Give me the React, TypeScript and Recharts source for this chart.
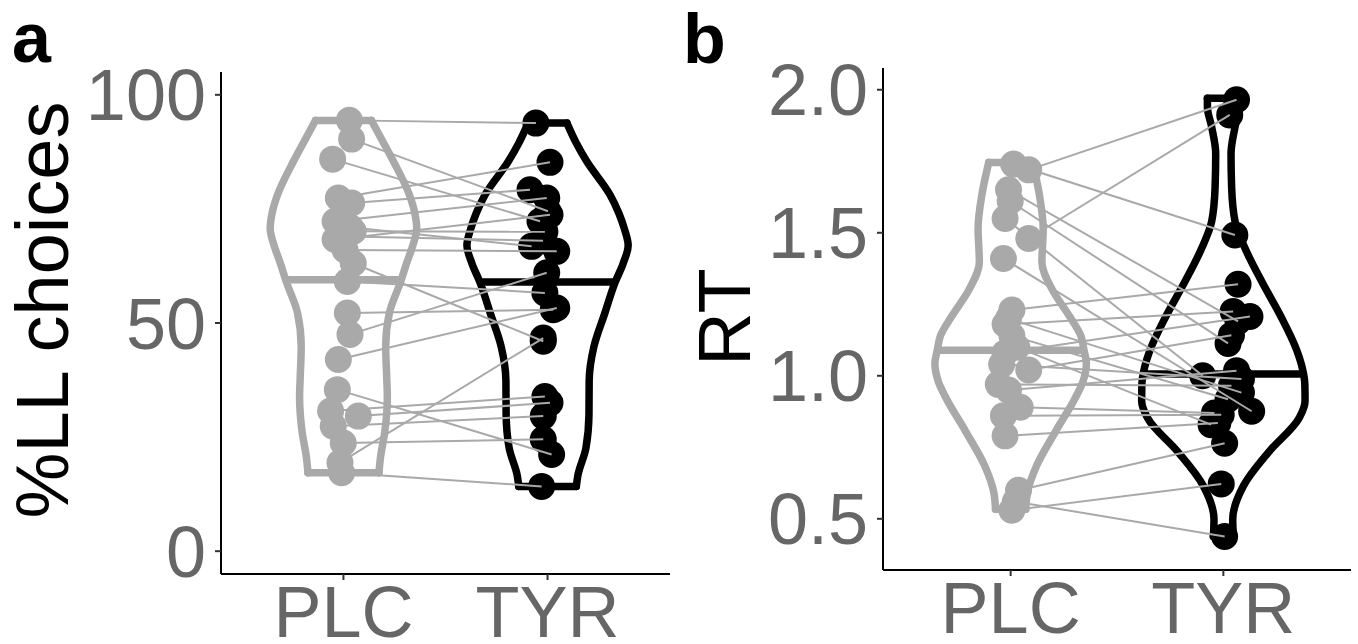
import React from 'react';
import { ComposedChart, Scatter, XAxis, YAxis } from 'recharts';

// ---------- categories ----------
const groups = ['PLC', 'TYR'];

// ---------- panel a : %LL choices ----------
const choicePLC = [94.4, 90.3, 85.9, 77.4, 76.3, 72.3, 71.0, 70.1, 69.0, 68.3, 66.0, 63.1, 59.1, 52.2, 47.5, 42.0, 35.4, 30.7, 29.6, 27.4, 23.7, 19.4, 17.2];
const choicePLCx = [1.029, 1.04, 0.947, 0.975, 1.04, 0.959, 1.032, 1.048, 0.983, 0.959, 1.008, 1.048, 1.019, 1.019, 1.032, 0.975, 0.97, 0.937, 1.073, 0.95, 0.999, 0.983, 0.991];
// paired with choicePLC (same subject order)
const choiceTYR = [93.8, 74.5, 72.3, 85.2, 79.2, 77.4, 66.8, 70.0, 68.0, 73.7, 65.7, 46.0, 56.6, 52.9, 61.0, 53.3, 21.2, 33.9, 32.5, 29.6, 24.5, 46.7, 14.2];
const choiceTYRx = [1.943, 2.002, 1.963, 2.012, 1.914, 1.996, 1.922, 1.987, 1.978, 2.012, 2.045, 1.979, 1.987, 2.028, 1.996, 2.045, 2.02, 1.987, 2.012, 1.979, 1.979, 1.979, 1.971];
// violin outlines: [value, half width], from top to bottom
const choiceViolinPLC = [[94.4, 0.137], [90.0, 0.19], [85.5, 0.244], [78.1, 0.323], [74.0, 0.35], [70.7, 0.359], [67.0, 0.34], [63.3, 0.311], [58.9, 0.279], [52.2, 0.225], [44.8, 0.207], [38.0, 0.212], [33.7, 0.215], [26.3, 0.203], [20.4, 0.181], [17.2, 0.174]];
const choiceViolinTYR = [[93.8, 0.095], [89.5, 0.14], [85.5, 0.191], [78.1, 0.306], [74.0, 0.35], [70.7, 0.376], [67.0, 0.395], [63.0, 0.37], [58.9, 0.331], [52.2, 0.281], [44.8, 0.227], [37.4, 0.204], [30.0, 0.203], [22.6, 0.188], [16.7, 0.149], [14.2, 0.141]];
const choiceMedian = [[59.5, 0.279], [59.0, 0.331]];
const choiceTicks = [0, 50, 100];

// ---------- panel b : RT ----------
const rtPLC = [1.74, 1.72, 1.65, 1.61, 1.55, 1.48, 1.41, 1.23, 1.2, 1.18, 1.14, 1.1, 1.08, 1.04, 1.02, 0.97, 0.95, 0.89, 0.86, 0.79, 0.6, 0.56, 0.53];
const rtPLCx = [1.014, 1.085, 0.99, 0.998, 0.974, 1.085, 0.966, 1.006, 0.99, 0.974, 1.006, 1.029, 0.974, 0.958, 1.085, 0.942, 0.99, 1.045, 0.966, 0.974, 1.037, 1.022, 1.006];
const rtTYR = [1.492, 1.965, 1.19, 1.113, 1.0, 1.912, 0.876, 1.32, 0.941, 1.225, 0.918, 0.829, 1.207, 0.989, 1.142, 0.965, 1.018, 0.87, 0.864, 0.835, 0.764, 0.438, 0.622];
const rtTYRx = [2.054, 2.062, 2.069, 2.022, 1.903, 2.03, 2.133, 2.069, 2.085, 2.046, 2.022, 1.942, 2.125, 2.085, 2.038, 2.038, 2.062, 1.958, 1.99, 1.974, 2.006, 2.006, 1.99];
const rtViolinPLC = [[1.746, 0.103], [1.633, 0.135], [1.515, 0.153], [1.397, 0.147], [1.302, 0.195], [1.208, 0.277], [1.14, 0.33], [1.089, 0.345], [1.042, 0.356], [0.98, 0.34], [0.924, 0.305], [0.805, 0.211], [0.687, 0.123], [0.592, 0.079], [0.533, 0.071]];
const rtViolinTYR = [[1.97, 0.075], [1.94, 0.075], [1.87, 0.055], [1.776, 0.036], [1.657, 0.039], [1.539, 0.055], [1.444, 0.103], [1.326, 0.183], [1.208, 0.27], [1.089, 0.345], [1.03, 0.37], [0.971, 0.383], [0.912, 0.384], [0.853, 0.357], [0.734, 0.214], [0.616, 0.095], [0.498, 0.044], [0.438, 0.047]];
const rtMedian = [[1.089, 0.345], [1.006, 0.37]];
const rtTicks = [0.5, 1.0, 1.5, 2.0];

// ---------- styles ----------
const GREY = '#A9A9A9';
const BLACK = '#000000';
const FONT = '"Liberation Sans", Arial, Helvetica, sans-serif';
const VW = 7.5;

type Pt = { x: number; y: number };

function side(center: number, outline: number[][], sign: number): Pt[] {
  return outline.map(([y, w]) => ({ x: center + sign * w, y }));
}
function edge(center: number, row: number[]): Pt[] {
  return [{ x: center - row[1], y: row[0] }, { x: center + row[1], y: row[0] }];
}
function toPoints(xs: number[], ys: number[]): Pt[] {
  return ys.map((y, i) => ({ x: xs[i], y }));
}

const NoShape = () => <g />;
const makeDot = (fill: string) => (props: any) =>
  props.cx == null ? <g /> : <circle cx={props.cx} cy={props.cy} r={13.5} fill={fill} />;
const greyDot = makeDot(GREY);
const blackDot = makeDot(BLACK);

function violinSeries(key: string, center: number, outline: number[][], median: number[], color: string) {
  const lineStyle = { stroke: color, strokeWidth: VW, strokeLinecap: 'round', strokeLinejoin: 'round' } as any;
  return [
    <Scatter key={key + 'r'} data={side(center, outline, 1)} shape={NoShape} line={lineStyle} lineType="joint" lineJointType="monotoneY" isAnimationActive={false} legendType="none" />,
    <Scatter key={key + 'l'} data={side(center, outline, -1)} shape={NoShape} line={lineStyle} lineType="joint" lineJointType="monotoneY" isAnimationActive={false} legendType="none" />,
    <Scatter key={key + 't'} data={edge(center, outline[0])} shape={NoShape} line={lineStyle} lineType="joint" isAnimationActive={false} legendType="none" />,
    <Scatter key={key + 'b'} data={edge(center, outline[outline.length - 1])} shape={NoShape} line={lineStyle} lineType="joint" isAnimationActive={false} legendType="none" />,
    <Scatter key={key + 'm'} data={edge(center, median)} shape={NoShape} line={{ stroke: color, strokeWidth: VW }} lineType="joint" isAnimationActive={false} legendType="none" />,
  ];
}

type PanelProps = {
  width: number;
  height: number;
  margin: { top: number; right: number; bottom: number; left: number };
  yWidth: number;
  xHeight: number;
  yDomain: [number, number];
  yTicks: number[];
  yFormat: (v: number) => string;
  plc: number[];
  plcX: number[];
  tyr: number[];
  tyrX: number[];
  vPLC: number[][];
  vTYR: number[][];
  median: number[][];
};

function Panel(p: PanelProps) {
  const tickStyle = { fill: '#666666', fontSize: 72, fontFamily: FONT };
  return (
    <ComposedChart width={p.width} height={p.height} margin={p.margin}>
      <XAxis
        type="number"
        dataKey="x"
        domain={[0.4, 2.6]}
        ticks={[1, 2]}
        interval={0}
        allowDataOverflow
        tickFormatter={(v: number) => groups[Math.round(v) - 1]}
        height={p.xHeight}
        tick={tickStyle}
        tickSize={6}
        tickMargin={6}
        axisLine={{ stroke: '#000', strokeWidth: 2 }}
        tickLine={{ stroke: '#333', strokeWidth: 2 }}
      />
      <YAxis
        type="number"
        dataKey="y"
        domain={p.yDomain}
        ticks={p.yTicks}
        interval={0}
        allowDataOverflow
        tickFormatter={p.yFormat}
        width={p.yWidth}
        tick={tickStyle}
        tickSize={6}
        tickMargin={9}
        axisLine={{ stroke: '#000', strokeWidth: 2 }}
        tickLine={{ stroke: '#333', strokeWidth: 2 }}
      />
      {violinSeries('vp', 1, p.vPLC, p.median[0], GREY)}
      {violinSeries('vt', 2, p.vTYR, p.median[1], BLACK)}
      <Scatter data={toPoints(p.plcX, p.plc)} shape={greyDot} isAnimationActive={false} legendType="none" />
      <Scatter data={toPoints(p.tyrX, p.tyr)} shape={blackDot} isAnimationActive={false} legendType="none" />
      {p.plc.map((v, i) => (
        <Scatter
          key={'pair' + i}
          data={[{ x: p.plcX[i], y: v }, { x: p.tyrX[i], y: p.tyr[i] }]}
          shape={NoShape}
          line={{ stroke: GREY, strokeWidth: 2 }}
          lineType="joint"
          isAnimationActive={false}
          legendType="none"
        />
      ))}
    </ComposedChart>
  );
}

export default function App() {
  return (
    <div style={{ position: 'absolute', left: 0, top: 0, width: 1358, height: 644, background: '#fff', overflow: 'hidden' }}>
      <div style={{ position: 'absolute', left: 0, top: 0 }}>
        <Panel
          width={680}
          height={644}
          margin={{ top: 72, right: 10, bottom: 0, left: 0 }}
          yWidth={221}
          xHeight={70}
          yDomain={[-5, 105]}
          yTicks={choiceTicks}
          yFormat={(v: number) => String(v)}
          plc={choicePLC}
          plcX={choicePLCx}
          tyr={choiceTYR}
          tyrX={choiceTYRx}
          vPLC={choiceViolinPLC}
          vTYR={choiceViolinTYR}
          median={choiceMedian}
        />
      </div>
      <div style={{ position: 'absolute', left: 680, top: 0 }}>
        <Panel
          width={678}
          height={644}
          margin={{ top: 68, right: 7, bottom: 0, left: 0 }}
          yWidth={203}
          xHeight={74}
          yDomain={[0.321, 2.076]}
          yTicks={rtTicks}
          yFormat={(v: number) => v.toFixed(1)}
          plc={rtPLC}
          plcX={rtPLCx}
          tyr={rtTYR}
          tyrX={rtTYRx}
          vPLC={rtViolinPLC}
          vTYR={rtViolinTYR}
          median={rtMedian}
        />
      </div>
      <svg width={1358} height={644} style={{ position: 'absolute', left: 0, top: 0, pointerEvents: 'none' }}>
        <text x={12} y={62} fontFamily={FONT} fontWeight="bold" fontSize={70} fill="#000">a</text>
        <text x={683} y={63} fontFamily={FONT} fontWeight="bold" fontSize={70} fill="#000">b</text>
        <text transform="translate(68,310) rotate(-90)" textAnchor="middle" fontFamily={FONT} fontSize={74} fill="#000">%LL choices</text>
        <text transform="translate(750,317) rotate(-90)" textAnchor="middle" fontFamily={FONT} fontSize={74} fill="#000">RT</text>
      </svg>
    </div>
  );
}
